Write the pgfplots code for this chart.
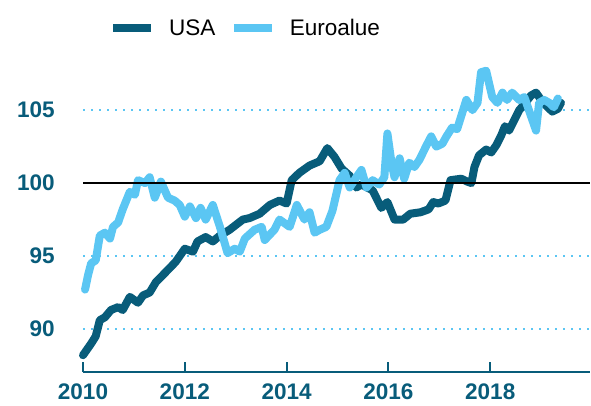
\documentclass[border=0pt]{standalone}
\usepackage{pgfplots}
\pgfplotsset{compat=1.18}
\usepackage{fontspec}
\setmainfont{Liberation Sans}
\definecolor{usacol}{RGB}{8,92,122}
\definecolor{eurocol}{RGB}{91,198,243}
\begin{document}
\begin{tikzpicture}
\begin{axis}[
  scale only axis,
  width=380.25pt, height=232.5pt,
  xmin=2010, xmax=2019.96,
  ymin=87.05, ymax=108.3,
  clip=false,
  axis x line*=bottom,
  axis y line*=left,
  x axis line style={draw=usacol, line width=1.5pt, -},
  y axis line style={draw=none},
  xtick={2010,2012,2014,2016,2018},
  xticklabels={2010,2012,2014,2016,2018},
  xtick align=inside,
  major tick length=7.5pt,
  xtick style={draw=usacol, line width=1.5pt},
  ytick={90,95,105},
  ytick style={draw=none},
  extra y ticks={100},
  extra y tick style={grid style={draw=black, solid, line width=2pt}, ytick style={draw=none}},
  ymajorgrids,
  grid style={draw=eurocol, line width=1.5pt, dash pattern=on 1.5pt off 4.5pt},
  /pgf/number format/assume math mode=true,
  /pgf/number format/1000 sep={},
  ticklabel style={font=\fontsize{16.9}{20}\selectfont\bfseries, text=usacol},
  xticklabel style={anchor=north, inner sep=0pt, yshift=-8.5pt},
  yticklabel style={anchor=east, inner sep=0pt, xshift=-21pt},
  legend columns=2,
  legend style={draw=none, fill=none, at={(0.051,1.109)}, anchor=west, inner sep=0pt,
    font=\fontsize{16.9}{20}\selectfont, /tikz/every even column/.append style={column sep=8.75pt}},
  legend image code/.code={\draw[#1, line width=6pt, line cap=butt] (0pt,0pt) -- (28.5pt,0pt); \path[draw=none, fill=none] (40pt,0pt) circle (0.01pt);},
  legend cell align=left,
  every axis plot/.append style={line join=round, line cap=round},
]
\addplot[usacol, line width=6pt, mark=none] coordinates {
(2010.00,88.2) (2010.04,88.4) (2010.16,89.0) (2010.25,89.5) (2010.33,90.6) (2010.43,90.8)
(2010.55,91.3) (2010.69,91.5) (2010.78,91.3) (2010.92,92.2) (2011.08,91.8) (2011.18,92.3)
(2011.31,92.5) (2011.43,93.2) (2011.57,93.7) (2011.71,94.2) (2011.82,94.6) (2012.00,95.5)
(2012.16,95.3) (2012.25,96.0) (2012.41,96.3) (2012.55,96.0) (2012.69,96.4) (2012.88,96.8)
(2013.14,97.5) (2013.27,97.6) (2013.47,97.9) (2013.67,98.5) (2013.86,98.8) (2014.00,98.6)
(2014.10,100.2) (2014.25,100.7) (2014.45,101.2) (2014.65,101.5) (2014.80,102.4) (2014.94,101.8)
(2015.08,101.0) (2015.24,100.5) (2015.37,99.7) (2015.47,99.9) (2015.69,99.5) (2015.86,98.3)
(2015.98,98.7) (2016.12,97.5) (2016.29,97.5) (2016.43,97.9) (2016.63,98.0) (2016.79,98.2)
(2016.88,98.7) (2016.98,98.6) (2017.12,98.8) (2017.22,100.2) (2017.43,100.3) (2017.55,100.1)
(2017.63,100.0) (2017.69,101.1) (2017.78,101.9) (2017.92,102.3) (2018.02,102.1) (2018.12,102.6)
(2018.22,103.3) (2018.29,103.9) (2018.37,103.6) (2018.47,104.3) (2018.57,105.0) (2018.69,105.5)
(2018.80,106.0) (2018.90,106.2) (2018.98,105.8) (2019.10,105.3) (2019.22,104.9) (2019.33,105.1)
(2019.39,105.5)
};
\addlegendentry{USA}
\addplot[eurocol, line width=6pt, mark=none] coordinates {
(2010.04,92.7) (2010.10,93.7) (2010.16,94.5) (2010.25,94.7) (2010.33,96.4) (2010.43,96.6)
(2010.53,96.2) (2010.59,97.0) (2010.69,97.3) (2010.78,98.2) (2010.92,99.4) (2011.02,99.2)
(2011.08,100.2) (2011.22,100.0) (2011.31,100.4) (2011.41,99.0) (2011.53,100.1) (2011.67,99.0)
(2011.80,98.8) (2011.90,98.5) (2012.00,97.7) (2012.10,98.4) (2012.22,97.6) (2012.31,98.3)
(2012.41,97.5) (2012.55,98.5) (2012.69,97.0) (2012.84,95.2) (2012.98,95.5) (2013.08,95.3)
(2013.18,96.2) (2013.37,96.8) (2013.51,97.0) (2013.57,96.1) (2013.76,96.8) (2013.86,97.5)
(2014.06,97.0) (2014.20,98.5) (2014.35,97.5) (2014.45,98.0) (2014.55,96.6) (2014.65,96.8)
(2014.78,97.0) (2014.90,98.1) (2015.04,100.2) (2015.14,100.7) (2015.24,99.7) (2015.37,100.4)
(2015.47,100.9) (2015.57,99.7) (2015.69,100.2) (2015.82,99.9) (2015.92,100.4) (2015.98,103.4)
(2016.06,101.4) (2016.12,100.4) (2016.22,101.7) (2016.31,100.3) (2016.41,101.4) (2016.51,101.1)
(2016.61,101.6) (2016.75,102.6) (2016.84,103.2) (2016.94,102.5) (2017.06,102.7) (2017.14,103.2)
(2017.25,103.8) (2017.35,103.7) (2017.53,105.7) (2017.65,105.0) (2017.75,105.5) (2017.82,107.6)
(2017.92,107.7) (2018.04,105.9) (2018.14,105.5) (2018.24,106.2) (2018.33,105.7) (2018.43,106.2)
(2018.57,105.7) (2018.67,105.9) (2018.76,105.0) (2018.90,103.6) (2018.96,105.5) (2019.06,105.7)
(2019.16,105.5) (2019.25,105.2) (2019.33,105.8)
};
\addlegendentry{Euroalue}
\addplot[black, line width=2pt, forget plot, line cap=butt] coordinates {(2010,100) (2019.96,100)};
\end{axis}
\pgfresetboundingbox
\path[use as bounding box] (current axis.south west) ++(-62.25pt,-24.75pt) rectangle ++(443.25pt,303.75pt);
\end{tikzpicture}
\end{document}
